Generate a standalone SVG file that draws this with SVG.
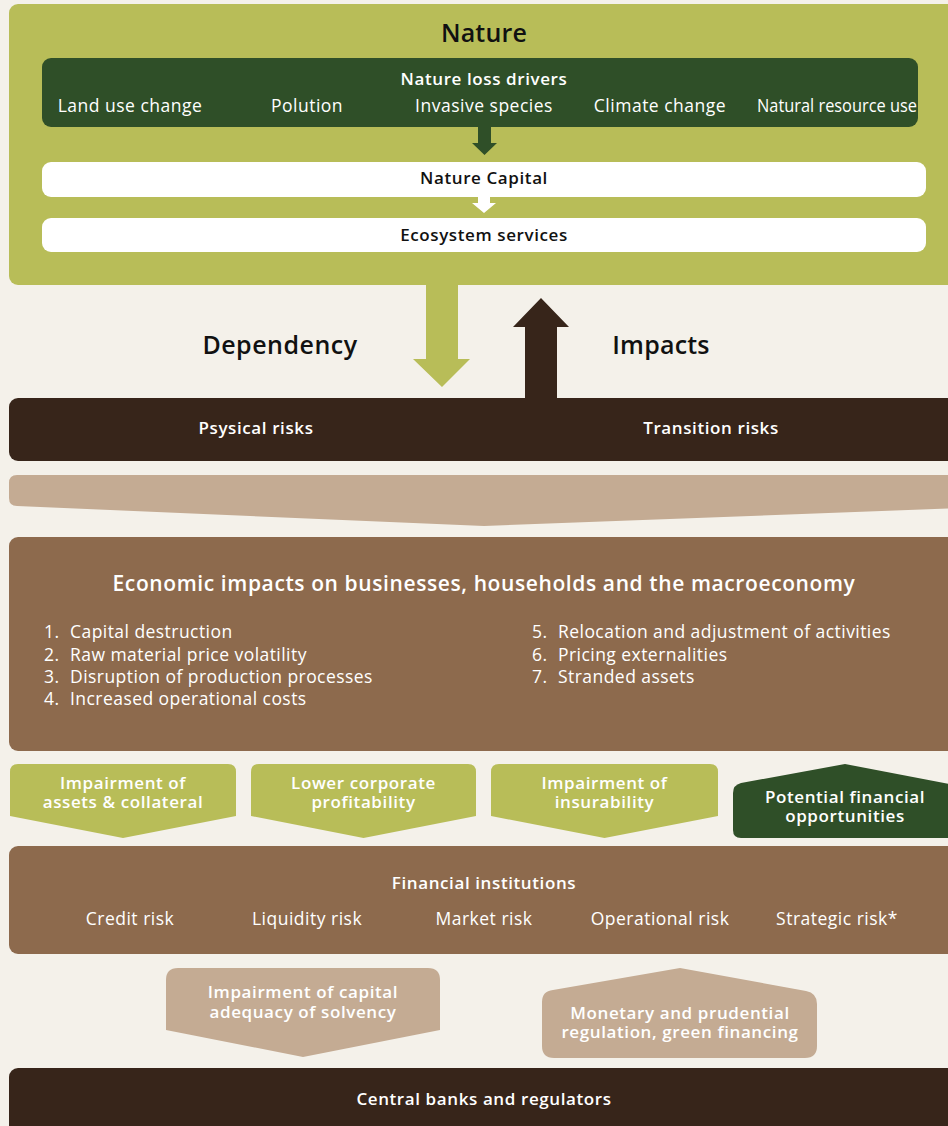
<svg xmlns="http://www.w3.org/2000/svg" width="948" height="1126" viewBox="0 0 948 1126">
<style>
text{font-family:"Open Sans","Liberation Sans",sans-serif;text-anchor:middle}
.b{font-weight:600;letter-spacing:0.6px}
.w{fill:#ffffff}
.k{fill:#111111}
.h{font-size:25px;letter-spacing:0.2px}
.s{font-size:17px}
.m{font-size:17.5px;letter-spacing:0.5px}
.l{text-anchor:start;font-size:17.5px;letter-spacing:0.45px}
</style>
<rect width="948" height="1126" fill="#f4f1ea"/>
<g id="nature">
<rect x="9" y="4" width="960" height="281" rx="9" fill="#b8bd58"/>
<text class="b h k" x="484" y="42">Nature</text>
</g>
<g id="drivers">
<rect x="42" y="58" width="876" height="69" rx="9" fill="#2f4f28"/>
<text class="b s w" x="484" y="85">Nature loss drivers</text>
<text class="m w" x="130" y="112">Land use change</text>
<text class="m w" x="307" y="112">Polution</text>
<text class="m w" x="484" y="112">Invasive species</text>
<text class="m w" x="660" y="112">Climate change</text>
<text class="w" x="837" y="112" font-size="17.5" textLength="160" lengthAdjust="spacingAndGlyphs">Natural resource use</text>
</g>
<g id="capital">
<rect x="42" y="162" width="884" height="35" rx="9" fill="#ffffff"/>
<text class="b s k" x="484" y="184">Nature Capital</text>
</g>
<g id="ecosystem">
<rect x="42" y="218" width="884" height="34" rx="9" fill="#ffffff"/>
<text class="b s k" x="484" y="241">Ecosystem services</text>
</g>
<g id="connectors">
<path d="M478 127 H491 V143 H497 L484.5 155 L472 143 H478 Z" fill="#2f4f28"/>
<path d="M478 197 H490 V203 H496 L484 213 L472 203 H478 Z" fill="#ffffff"/>
<path d="M426 285 H458 V359 H470 L442 387 L413 359 H426 Z" fill="#b8bd58"/>
<path d="M525 399 V327 H513 L541 298 L569 327 H557 V399 Z" fill="#37251a"/>
<path d="M17 475 H960 V508 L484 526 L17 506 Q9 506 9 498 V483 Q9 475 17 475 Z" fill="#c4ab93"/>
</g>
<text class="b h k" x="280" y="354" style="letter-spacing:0.5px">Dependency</text>
<text class="b h k" x="661" y="354">Impacts</text>
<g id="risks">
<rect x="9" y="398" width="960" height="63" rx="9" fill="#37251a"/>
<text class="b s w" x="256" y="434">Psysical risks</text>
<text class="b s w" x="711" y="434">Transition risks</text>
</g>
<g id="economic">
<rect x="9" y="537" width="960" height="214" rx="9" fill="#8d6a4d"/>
<text class="b w" x="484" y="591" font-size="21" style="letter-spacing:0.6px">Economic impacts on businesses, households and the macroeconomy</text>
<g class="w">
<text class="l" x="44" y="638">1.</text><text class="l" x="70" y="638">Capital destruction</text>
<text class="l" x="44" y="661">2.</text><text class="l" x="70" y="661">Raw material price volatility</text>
<text class="l" x="44" y="683">3.</text><text class="l" x="70" y="683">Disruption of production processes</text>
<text class="l" x="44" y="705">4.</text><text class="l" x="70" y="705">Increased operational costs</text>
<text class="l" x="532" y="638">5.</text><text class="l" x="558" y="638">Relocation and adjustment of activities</text>
<text class="l" x="532" y="661">6.</text><text class="l" x="558" y="661">Pricing externalities</text>
<text class="l" x="532" y="683">7.</text><text class="l" x="558" y="683">Stranded assets</text>
</g>
</g>
<g id="impairment-assets">
<path d="M18 764 H228 Q236 764 236 772 V816 L123 838 L10 816 V772 Q10 764 18 764 Z" fill="#b8bd58"/>
<text class="b s w"><tspan x="123" y="789">Impairment of</tspan><tspan x="123" y="808">assets &amp; collateral</tspan></text>
</g>
<g id="lower-profitability">
<path d="M259 764 H468 Q476 764 476 772 V816 L363.5 838 L251 816 V772 Q251 764 259 764 Z" fill="#b8bd58"/>
<text class="b s w"><tspan x="363.5" y="789">Lower corporate</tspan><tspan x="363.5" y="808">profitability</tspan></text>
</g>
<g id="impairment-insurability">
<path d="M499 764 H710 Q718 764 718 772 V816 L604.5 838 L491 816 V772 Q491 764 499 764 Z" fill="#b8bd58"/>
<text class="b s w"><tspan x="604.5" y="789">Impairment of</tspan><tspan x="604.5" y="808">insurability</tspan></text>
</g>
<g id="opportunities">
<path d="M733 793 Q733 785 741 783 L845 764 L960 786 V838 H741 Q733 838 733 830 Z" fill="#2f4f28"/>
<text class="b s w"><tspan x="845" y="803">Potential financial</tspan><tspan x="845" y="822">opportunities</tspan></text>
</g>
<g id="financial-institutions">
<rect x="9" y="846" width="960" height="108" rx="9" fill="#8d6a4d"/>
<text class="b s w" x="484" y="889">Financial institutions</text>
<text class="m w" x="130" y="925">Credit risk</text>
<text class="m w" x="307" y="925">Liquidity risk</text>
<text class="m w" x="484" y="925">Market risk</text>
<text class="m w" x="660" y="925">Operational risk</text>
<text class="m w" x="837" y="925">Strategic risk*</text>
</g>
<g id="capital-adequacy">
<path d="M178 968 H428 Q440 968 440 980 V1030 L303 1057 L166 1030 V980 Q166 968 178 968 Z" fill="#c4ab93"/>
<text class="b s w"><tspan x="303" y="998">Impairment of capital</tspan><tspan x="303" y="1018">adequacy of solvency</tspan></text>
</g>
<g id="regulation">
<path d="M542 1002 Q542 991 553 990 L680 968 L806 991 Q817 993 817 1004 V1046 Q817 1058 805 1058 H554 Q542 1058 542 1046 Z" fill="#c4ab93"/>
<text class="b s w"><tspan x="680" y="1019">Monetary and prudential</tspan><tspan x="680" y="1038">regulation, green financing</tspan></text>
</g>
<g id="central-banks">
<rect x="9" y="1068" width="960" height="70" rx="9" fill="#37251a"/>
<text class="b s w" x="484" y="1105">Central banks and regulators</text>
</g>
</svg>
